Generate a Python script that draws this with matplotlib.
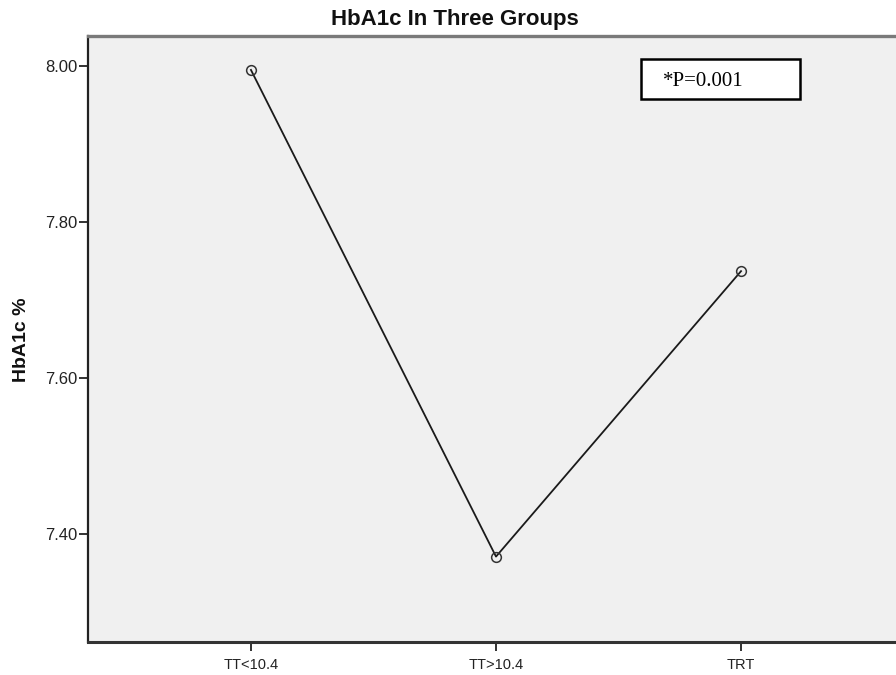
import matplotlib
matplotlib.use("Agg")
import matplotlib.pyplot as plt

groups = ["TT<10.4", "TT>10.4", "TRT"]
hba1c_mean = [7.995, 7.371, 7.737]
y_ticks = [7.40, 7.60, 7.80, 8.00]
y_tick_labels = ["7.40", "7.60", "7.80", "8.00"]

plt.rcParams['font.family'] = ['Liberation Sans', 'DejaVu Sans']

fig = plt.figure(figsize=(8.96, 6.75), dpi=100)
# axes run past the right edge, like the cropped original
ax = fig.add_axes([88 / 896, 33 / 675, 816 / 896, 606 / 675])
ax.set_facecolor("#f0f0f0")

xs = list(range(len(groups)))
ax.plot(xs, hba1c_mean, color="#1a1a1a", lw=1.3, zorder=2)
ax.plot(xs, hba1c_mean, ls="none", marker="o", ms=7, mfc="none",
        mec="#333333", mew=1.1, zorder=3)

ax.set_xlim(-0.665, 2.665)
ax.set_ylim(7.2615, 8.0385)
ax.set_xticks(xs)
ax.set_xticklabels(groups, fontsize=10.5)
ax.set_yticks(y_ticks)
ax.set_yticklabels(y_tick_labels, fontsize=12)
ax.tick_params(axis="both", direction="out", length=6.5, width=1.3, color="#222222",
               labelcolor="#222222")
ax.tick_params(axis="x", pad=5)
ax.tick_params(axis="y", pad=1)

ax.spines["left"].set_color("#222222")
ax.spines["left"].set_linewidth(1.6)
ax.spines["bottom"].set_color("#333333")
ax.spines["bottom"].set_linewidth(2.2)
ax.spines["top"].set_color("#7a7a7a")
ax.spines["top"].set_linewidth(2.4)
ax.spines["right"].set_visible(False)

fig.text(21 / 896, 1 - 340 / 675, "HbA1c %", fontsize=14, fontweight="bold",
         rotation=90, ha="center", va="center", color="#111111")

fig.text(455 / 896, 1 - 19 / 675, "HbA1c In Three Groups", fontsize=16,
         fontweight="bold", ha="center", va="center", color="#111111")

ax.text((663 - 88) / 816, 1 - (82 - 36) / 606, "*P=0.001",
        transform=ax.transAxes, fontsize=15, family="Liberation Serif",
        va="center", ha="left", zorder=5)
box = plt.Rectangle((641 / 896, 1 - 99 / 675), 159 / 896, 40 / 675,
                    transform=fig.transFigure, facecolor="white",
                    edgecolor="black", lw=1.8, zorder=4)
ax.add_artist(box)
box.set_clip_on(False)

fig.savefig("out.png", dpi=100)
